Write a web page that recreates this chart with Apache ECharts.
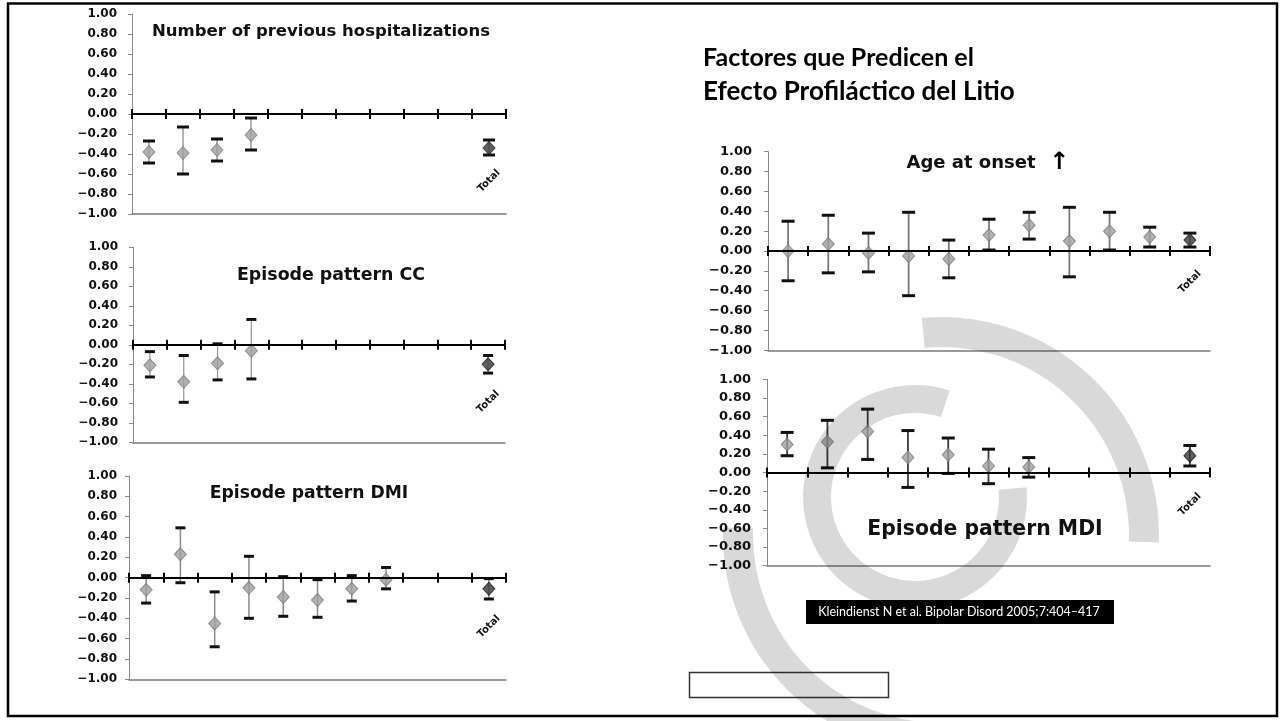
<!DOCTYPE html>
<html><head><meta charset="utf-8">
<script src="https://cdn.jsdelivr.net/npm/echarts@6/dist/echarts.min.js"></script>
<style>html,body{margin:0;padding:0;background:#fff}#c{width:1285px;height:721px}</style>
</head><body><div id="c"></div>
<script>
// ---------- DATA ----------
const categories = ['', '', '', '', '', '', '', '', '', '', 'Total'];
const yMin = -1, yMax = 1, yStep = 0.2;

const panelTitles = ['Number of previous hospitalizations', 'Episode pattern CC', 'Episode pattern DMI', 'Age at onset', 'Episode pattern MDI'];
const slideTitle1 = 'Factores que Predicen el';
const slideTitle2 = 'Efecto Profiláctico del Litio';
const citation = 'Kleindienst N et al. Bipolar Disord 2005;7:404\u2013417';

const hospMean = [-0.38, -0.39, -0.36, -0.21, null, null, null, null, null, null, -0.34];
const hospLow  = [-0.49, -0.60, -0.47, -0.36, null, null, null, null, null, null, -0.41];
const hospHigh = [-0.27, -0.13, -0.25, -0.04, null, null, null, null, null, null, -0.26];

const ccMean = [-0.21, -0.38, -0.19, -0.06, null, null, null, null, null, null, -0.20];
const ccLow  = [-0.33, -0.59, -0.36, -0.35, null, null, null, null, null, null, -0.29];
const ccHigh = [-0.07, -0.11,  0.01,  0.26, null, null, null, null, null, null, -0.11];

const dmiMean = [-0.12, 0.23, -0.45, -0.10, -0.19, -0.22, -0.11, -0.02, null, null, -0.11];
const dmiLow  = [-0.25, -0.05, -0.68, -0.40, -0.38, -0.39, -0.23, -0.11, null, null, -0.21];
const dmiHigh = [ 0.02, 0.49, -0.14,  0.21,  0.01, -0.02,  0.02,  0.10, null, null, -0.01];

const ageMean = [0.00, 0.07, -0.02, -0.05, -0.08, 0.16, 0.26, 0.10, 0.20, 0.14, 0.11];
const ageLow  = [-0.30, -0.22, -0.21, -0.45, -0.27, 0.01, 0.12, -0.26, 0.01, 0.04, 0.04];
const ageHigh = [0.30, 0.36, 0.18, 0.39, 0.11, 0.32, 0.39, 0.44, 0.39, 0.24, 0.18];

const mdiMean = [0.30, 0.33, 0.44, 0.16, 0.19, 0.07, 0.06, null, null, null, 0.18];
const mdiLow  = [0.18, 0.05, 0.14, -0.16, -0.01, -0.12, -0.05, null, null, null, 0.07];
const mdiHigh = [0.43, 0.56, 0.68, 0.45, 0.37, 0.25, 0.16, null, null, null, 0.29];

// ---------- LAYOUT / STYLE ----------
const FONT = '"DejaVu Sans", sans-serif';
const layout = [
  {mean: hospMean, low: hospLow, high: hospHigh, left:132, top:14, width:374, height:200, lblSize:12, lblMargin:15, totalMargin:-33, capW:12, barColor:'#9a9a9a', barW:1.5,
   title:{x:321, y:32, size:16.5}},
  {mean: ccMean, low: ccLow, high: ccHigh, left:133, top:247.3, width:372, height:195, lblSize:12, lblMargin:15, totalMargin:-40.5, capW:10, barColor:'#9a9a9a', barW:1.3,
   title:{x:331, y:275, size:17.4}},
  {mean: dmiMean, low: dmiLow, high: dmiHigh, left:129, top:476, width:377, height:203.3, lblSize:12, lblMargin:12, totalMargin:-52.7, capW:10, barColor:'#8a8a8a', barW:1.5,
   title:{x:309, y:494, size:17.2}},
  {mean: ageMean, low: ageLow, high: ageHigh, left:768, top:151.7, width:442, height:198.6, lblSize:13, lblMargin:16, totalMargin:-68.3, capW:13, barColor:'#7a7a7a', barW:1.8,
   title:{x:971, y:163, size:18}},
  {mean: mdiMean, low: mdiLow, high: mdiHigh, left:767, top:379.3, width:443, height:186.4, lblSize:13, lblMargin:16, totalMargin:-61.2, capW:13, barColor:'#3a3a3a', barW:1.8,
   title:{x:985, y:530, size:20.4}}
];

function fmt(v) {
  const r = Math.round(v * 100) / 100;
  const s = Math.abs(r).toFixed(2);
  return r < 0 ? '\u2212' + s : s;
}

const grid = [], xAxis = [], yAxis = [], series = [], graphic = [];

layout.forEach((p, k) => {
  grid.push({left: p.left, top: p.top, width: p.width, height: p.height, containLabel: false, outerBoundsMode: 'none'});
  // zero line with downward ticks and the 'Total' label
  xAxis.push({type: 'category', gridIndex: k, data: categories, position: 'bottom', boundaryGap: true, z: 5,
    axisLine: {show: true, onZero: true, onZeroAxisIndex: k, lineStyle: {color: '#000', width: 2}},
    axisTick: {show: true, inside: false, length: 5, interval: 0, lineStyle: {color: '#000', width: 2}},
    axisLabel: {show: true, interval: 0, rotate: 45, align: 'center', verticalAlign: 'middle', margin: p.totalMargin,
      fontFamily: FONT, fontWeight: 'bold', fontSize: 10, color: '#111'},
    splitLine: {show: false}});
  // upward half of the ticks
  xAxis.push({type: 'category', gridIndex: k, data: categories, position: 'bottom', boundaryGap: true, z: 5,
    axisLine: {show: false, onZero: true, onZeroAxisIndex: k},
    axisTick: {show: true, inside: true, length: 5, interval: 0, lineStyle: {color: '#000', width: 2}},
    axisLabel: {show: false}, splitLine: {show: false}});
  // bottom base line at -1.00
  xAxis.push({type: 'category', gridIndex: k, data: categories, position: 'bottom', boundaryGap: true,
    axisLine: {show: true, onZero: false, lineStyle: {color: '#7a7a7a', width: 1.5}},
    axisTick: {show: false}, axisLabel: {show: false}, splitLine: {show: false}});
  yAxis.push({type: 'value', gridIndex: k, min: yMin, max: yMax, interval: yStep,
    axisLine: {show: true, onZero: false, lineStyle: {color: '#8a8a8a', width: 1}},
    axisTick: {show: true, length: 4, lineStyle: {color: '#8a8a8a', width: 1}},
    axisLabel: {formatter: fmt, margin: p.lblMargin, fontFamily: FONT, fontWeight: 'bold', fontSize: p.lblSize, color: '#111'},
    splitLine: {show: false}});

  const bars = [], pts = [];
  p.mean.forEach((m, i) => {
    if (m == null) return;
    bars.push([i, p.low[i], p.high[i]]);
    const isTotal = categories[i] === 'Total';
    pts.push({value: [i, m], itemStyle: isTotal ? {color: '#383838', borderColor: '#1a1a1a', borderWidth: 1}
                                                : {color: '#9f9f9f', borderColor: '#7c7c7c', borderWidth: 1}});
  });
  const capW = p.capW, barColor = p.barColor, barW = p.barW;
  series.push({type: 'custom', xAxisIndex: 3 * k, yAxisIndex: k, data: bars, encode: {x: 0, y: [1, 2]}, z: 3, silent: true,
    renderItem: function (params, api) {
      const x = api.value(0);
      const a = api.coord([x, api.value(1)]);
      const b = api.coord([x, api.value(2)]);
      const h = capW / 2;
      return {type: 'group', children: [
        {type: 'line', shape: {x1: a[0], y1: a[1], x2: b[0], y2: b[1]}, style: {stroke: barColor, lineWidth: barW}},
        {type: 'line', shape: {x1: a[0] - h, y1: a[1], x2: a[0] + h, y2: a[1]}, style: {stroke: '#111', lineWidth: 3}},
        {type: 'line', shape: {x1: b[0] - h, y1: b[1], x2: b[0] + h, y2: b[1]}, style: {stroke: '#111', lineWidth: 3}}
      ]};
    }});
  series.push({type: 'scatter', xAxisIndex: 3 * k, yAxisIndex: k, data: pts, symbol: 'diamond', symbolSize: [12, 13], z: 4, silent: true});

  graphic.push({type: 'text', x: p.title.x, y: p.title.y, z: 10,
    style: {text: panelTitles[k], textAlign: 'center', textVerticalAlign: 'middle', fill: '#111',
      font: 'bold ' + p.title.size + 'px ' + FONT}});
});

// arrow next to "Age at onset"
graphic.push({type: 'text', x: 1059, y: 163, z: 10,
  style: {text: '\u2191', textAlign: 'center', textVerticalAlign: 'middle', fill: '#000', font: 'bold 24px ' + FONT}});

// slide title
graphic.push({type: 'text', x: 703, y: 58, z: 10,
  style: {text: slideTitle1, textAlign: 'left', textVerticalAlign: 'middle', fill: '#000', font: 'bold 25px Lato, sans-serif'}});
graphic.push({type: 'text', x: 703, y: 92, z: 10,
  style: {text: slideTitle2, textAlign: 'left', textVerticalAlign: 'middle', fill: '#000', font: 'bold 26px Lato, sans-serif'}});

// citation box
graphic.push({type: 'rect', z: 10, shape: {x: 806, y: 600, width: 308, height: 24}, style: {fill: '#000'}});
graphic.push({type: 'text', x: 959, y: 612, z: 11,
  style: {text: citation, textAlign: 'center', textVerticalAlign: 'middle', fill: '#fff', font: '12.5px Lato, sans-serif'}});

// empty box
graphic.push({type: 'rect', z: 10, shape: {x: 689.5, y: 672.5, width: 199, height: 25}, style: {fill: null, stroke: '#333', lineWidth: 1.5}});

// slide border
graphic.push({type: 'rect', z: 20, shape: {x: 8, y: 3.5, width: 1269, height: 712.5}, style: {fill: null, stroke: '#000', lineWidth: 2.5}});

// watermark arcs (multiply blend)
const D = Math.PI / 180;
graphic.push({type: 'arc', z: 50, silent: true, shape: {cx: 941, cy: 535, r: 203, startAngle: -95 * D, endAngle: 2 * D, clockwise: true},
  style: {fill: null, stroke: '#d9d9d9', lineWidth: 30, blend: 'multiply'}});
graphic.push({type: 'arc', z: 50, silent: true, shape: {cx: 941, cy: 535, r: 203, startAngle: 90 * D, endAngle: 182 * D, clockwise: true},
  style: {fill: null, stroke: '#d9d9d9', lineWidth: 30, blend: 'multiply'}});
graphic.push({type: 'arc', z: 50, silent: true, shape: {cx: 915, cy: 497, r: 98, startAngle: -5 * D, endAngle: 288 * D, clockwise: true},
  style: {fill: null, stroke: '#d9d9d9', lineWidth: 28, blend: 'multiply'}});

const chart = echarts.init(document.getElementById('c'), null, {renderer: 'canvas'});
chart.setOption({
  animation: false,
  backgroundColor: '#fff',
  grid: grid, xAxis: xAxis, yAxis: yAxis, series: series, graphic: graphic
});
</script></body></html>
